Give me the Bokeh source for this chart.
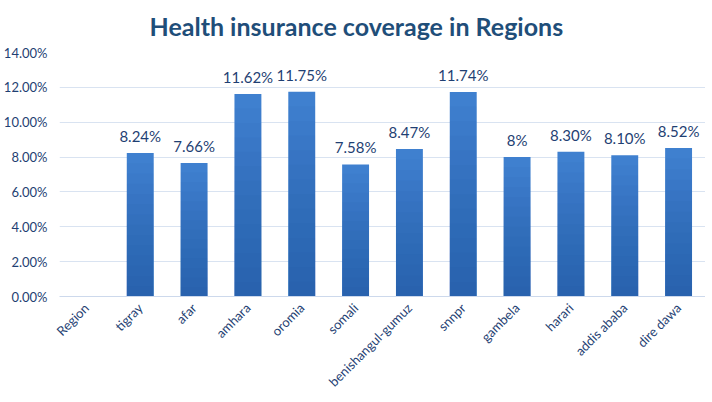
from bokeh.plotting import figure
from bokeh.models import Range1d, FixedTicker, NumeralTickFormatter, ColumnDataSource
from bokeh.core.properties import value
from bokeh.embed import file_html
from bokeh.resources import INLINE
import math

categories = ["Region", "tigray", "afar", "amhara", "oromia", "somali",
              "benishangul-gumuz", "snnpr", "gambela", "harari", "addis ababa", "dire dawa"]
bar_regions = ["tigray", "afar", "amhara", "oromia", "somali",
               "benishangul-gumuz", "snnpr", "gambela", "harari", "addis ababa", "dire dawa"]
coverage = [0.0824, 0.0766, 0.1162, 0.1175, 0.0758, 0.0847, 0.1174, 0.08, 0.083, 0.081, 0.0852]
bar_labels = ["8.24%", "7.66%", "11.62%", "11.75%", "7.58%", "8.47%", "11.74%", "8%", "8.30%", "8.10%", "8.52%"]
y_ticks = [0, 0.02, 0.04, 0.06, 0.08, 0.10, 0.12, 0.14]

FONT = "Lato"
TXT = "#1f3f73"

p = figure(x_range=categories, y_range=Range1d(0, 0.14),
           frame_width=646, frame_height=244,
           output_backend="svg", toolbar_location=None,
           min_border_left=50, min_border_right=0, min_border_top=45, min_border_bottom=20)
p.title.text = "Health insurance coverage in Regions"
p.title.text_font = FONT
p.title.text_font_size = "25px"
p.title.text_color = "#1f4e79"
p.title.align = "left"
p.title.offset = 90
p.title.standoff = 20
p.title.vertical_align = "top"

p.outline_line_color = None
p.background_fill_color = "white"
p.border_fill_color = "white"

src = ColumnDataSource(dict(x=bar_regions, top=coverage, label=bar_labels))
p.vbar(x="x", top="top", width=0.5, source=src, fill_color="#3f80cf", line_color=None)
# gradient shading: overlay translucent darker bars of decreasing height
N = 14
for i in range(1, N):
    frac = 1 - i / N
    p.vbar(x=bar_regions, top=[v * frac for v in coverage], width=0.5,
           fill_color="#1f4a85", fill_alpha=0.045, line_color=None)

p.text(x="x", y="top", text="label", source=src, text_align="center",
       text_baseline="bottom", y_offset=-8, text_font=value(FONT),
       text_font_size="15px", text_color=TXT)

p.yaxis.ticker = FixedTicker(ticks=y_ticks)
p.yaxis.formatter = NumeralTickFormatter(format="0.00%")
p.ygrid.ticker = FixedTicker(ticks=y_ticks)
p.ygrid.grid_line_color = "#d9e3f1"
p.xgrid.grid_line_color = None

for ax in (p.xaxis, p.yaxis):
    ax.major_tick_line_color = None
    ax.minor_tick_line_color = None
    ax.major_label_text_font = FONT
    ax.major_label_text_font_size = "13px"
    ax.major_label_text_color = TXT
p.yaxis.axis_line_color = None
p.yaxis.major_label_standoff = 6
p.xaxis.axis_line_color = "#cdd9ec"
p.xaxis.major_label_orientation = math.pi / 4
p.xaxis.major_label_standoff = 3

open("out.html", "w").write(file_html(p, INLINE))
